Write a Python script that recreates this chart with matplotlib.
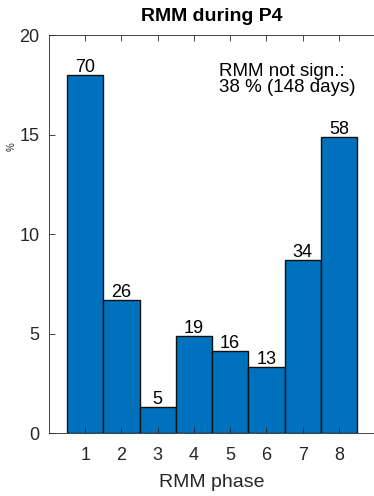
import matplotlib

matplotlib.use("Agg")
import matplotlib.pyplot as plt

phases = [1, 2, 3, 4, 5, 6, 7, 8]
percent = [18.0, 6.7, 1.3, 4.9, 4.1, 3.3, 8.7, 14.9]
counts = [70, 26, 5, 19, 16, 13, 34, 58]
note = "RMM not sign.:\n38 % (148 days)"

plt.rcParams["font.family"] = ["Liberation Sans", "DejaVu Sans"]
axis_col = "#262626"

fig = plt.figure(figsize=(3.74, 4.96), dpi=100)
ax = fig.add_axes([0.131, 0.127, 0.872, 0.802])

ax.bar(phases, percent, width=1.0, color="#0072BD", edgecolor="#111111", linewidth=1.0)
for x, y, n in zip(phases, percent, counts):
    ax.text(x, y - 0.05, str(n), ha="center", va="bottom", fontsize=13, color="black")

ax.text(0.52, 0.93, note, transform=ax.transAxes, ha="left", va="top",
        fontsize=13.5, linespacing=0.88, color="black")

ax.set_xlim(0, 9)
ax.set_ylim(0, 20)
ax.set_xticks(phases)
ax.set_yticks([0, 5, 10, 15, 20])
ax.tick_params(direction="in", length=4, width=0.6, colors=axis_col, labelsize=13,
               top=True, right=False, pad=7)
ax.tick_params(axis="x", pad=10)
for side in ("left", "bottom", "top"):
    ax.spines[side].set_color(axis_col)
    ax.spines[side].set_linewidth(0.6)
ax.spines["right"].set_visible(False)

ax.set_xlabel("RMM phase", fontsize=14, color=axis_col, labelpad=7)
ax.set_ylabel("%", fontsize=7, color=axis_col)
ax.yaxis.set_label_coords(-0.1, 0.72)
ax.set_title("RMM during P4", fontsize=14, fontweight="bold", pad=10)

fig.savefig("out.png", dpi=100)
